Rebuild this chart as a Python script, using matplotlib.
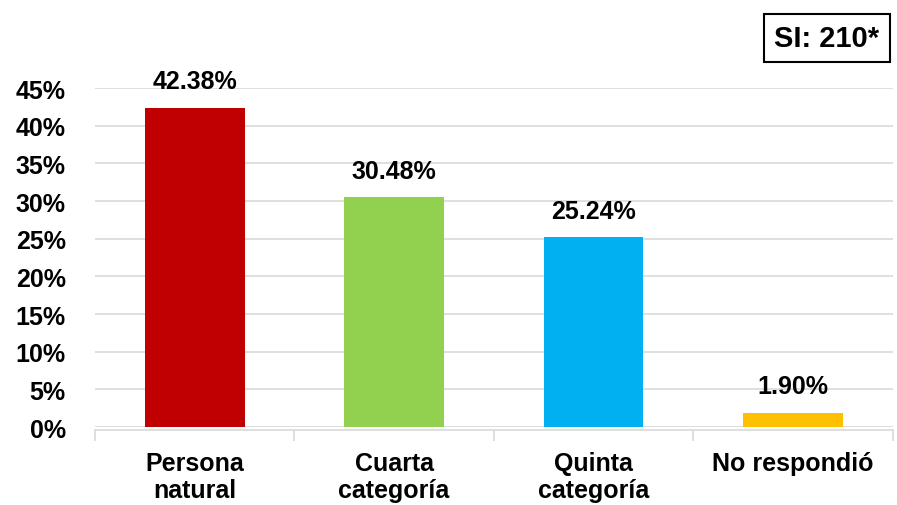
import matplotlib.pyplot as plt
import numpy as np

categories = ['Persona\nnatural', 'Cuarta\ncategoría', 'Quinta\ncategoría', 'No respondió']
values = [42.38, 30.48, 25.24, 1.90]
colors = ['#C00000', '#92D050', '#00B0F0', '#FFC000']
yticks = [0, 5, 10, 15, 20, 25, 30, 35, 40, 45]

plt.rcParams['font.family'] = ['Liberation Sans', 'DejaVu Sans']
plt.rcParams['font.weight'] = 'bold'

fig = plt.figure(figsize=(8.97, 5.06), dpi=100)
ax = fig.add_axes([0.106, 0.154, 0.889, 0.670])

x = np.arange(len(categories))
ax.bar(x, values, width=0.5, color=colors, zorder=3)
for xi, v in zip(x, values):
    ax.text(xi, v + 1.9, '{:.2f}%'.format(v), ha='center', va='bottom',
            fontsize=18, fontweight='bold')

ax.set_xlim(-0.5, len(categories) - 0.5)
ax.set_ylim(0, 45)
ax.set_yticks(yticks)
ax.set_yticklabels(['{}%'.format(t) for t in yticks])
ax.yaxis.grid(True, color='#d9d9d9', linewidth=1.2, zorder=0)
ax.tick_params(axis='y', length=0, pad=21, labelsize=18)

ax.set_xticks(x)
ax.set_xticklabels(categories, linespacing=1.3)
ax.set_xticks(np.arange(len(categories) + 1) - 0.5, minor=True)
ax.tick_params(axis='x', which='major', length=0, pad=15, labelsize=18)
ax.tick_params(axis='x', which='minor', length=8, color='#d9d9d9', width=1.2)

for s in ['top', 'right', 'left']:
    ax.spines[s].set_visible(False)
ax.spines['bottom'].set_color('#d9d9d9')
ax.spines['bottom'].set_linewidth(1.2)
ax.spines['bottom'].set_position(('outward', 2))

fig.text(0.922, 0.923, 'SI: 210*', fontsize=21, fontweight='bold', ha='center', va='center',
         bbox=dict(boxstyle='square,pad=0.35', facecolor='white', edgecolor='black', linewidth=1.5))

fig.savefig('out.png', dpi=100)
